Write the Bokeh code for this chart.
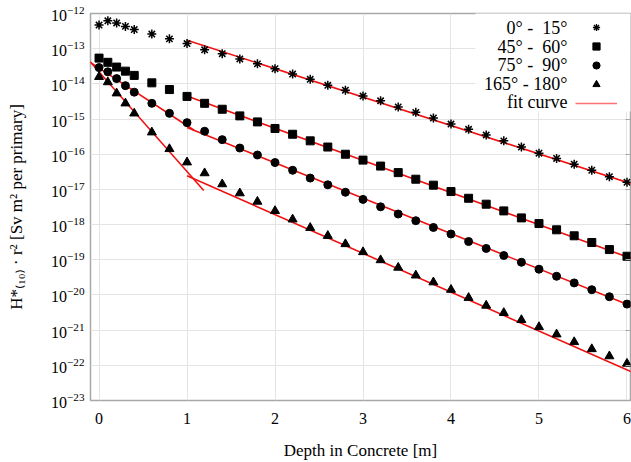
from bokeh.plotting import figure
from bokeh.models import (FixedTicker, Legend, LegendItem, LogTickFormatter,
                          Label, BoxAnnotation, LogAxis)
from bokeh.embed import file_html
from bokeh.resources import INLINE

# ---------------- data ----------------
depth = [0.0, 0.1, 0.2, 0.3, 0.4, 0.6, 0.8, 1.0, 1.2, 1.4, 1.6, 1.8, 2.0, 2.2, 2.4,
         2.6, 2.8, 3.0, 3.2, 3.4, 3.6, 3.8, 4.0, 4.2, 4.4, 4.6, 4.8, 5.0, 5.2, 5.4,
         5.6, 5.8, 6.0]

h_0_15 = [4.7e-13, 6.2e-13, 5.4e-13, 4.3e-13, 3.5e-13, 2.6e-13, 1.9e-13, 1.4e-13,
          9.3e-14, 7.2e-14, 5.1e-14, 3.7e-14, 2.7e-14, 1.9e-14, 1.35e-14, 9.1e-15,
          6.6e-15, 4.5e-15, 3.3e-15, 2.2e-15, 1.55e-15, 1.07e-15, 7.2e-16, 5.1e-16,
          3.5e-16, 2.4e-16, 1.6e-16, 1.07e-16, 7.6e-17, 5.2e-17, 3.5e-17, 2.3e-17,
          1.6e-17]

h_45_60 = [5.4e-14, 4.1e-14, 3.0e-14, 2.3e-14, 1.74e-14, 1.07e-14, 6.9e-15, 4.4e-15,
           2.8e-15, 1.9e-15, 1.23e-15, 8.3e-16, 5.4e-16, 3.7e-16, 2.4e-16, 1.6e-16,
           1.0e-16, 6.8e-17, 4.6e-17, 3.0e-17, 1.95e-17, 1.32e-17, 8.7e-18, 5.6e-18,
           3.8e-18, 2.45e-18, 1.55e-18, 1.07e-18, 7.1e-19, 4.8e-19, 3.1e-19, 1.95e-19,
           1.26e-19]

h_75_90 = [2.9e-14, 2.2e-14, 1.41e-14, 8.9e-15, 5.8e-15, 2.8e-15, 1.45e-15, 7.9e-16,
           4.5e-16, 2.6e-16, 1.5e-16, 9.5e-17, 5.8e-17, 3.5e-17, 2.1e-17, 1.35e-17,
           8.3e-18, 5.2e-18, 3.2e-18, 2.0e-18, 1.29e-18, 8.3e-19, 5.4e-19, 3.3e-19,
           2.1e-19, 1.32e-19, 8.5e-20, 5.4e-20, 3.4e-20, 2.2e-20, 1.41e-20, 8.9e-21,
           5.5e-21]

h_165_180 = [1.58e-14, 1.12e-14, 5.4e-15, 2.8e-15, 1.45e-15, 4.2e-16, 1.41e-16, 5.9e-17,
             2.9e-17, 1.41e-17, 7.8e-18, 4.5e-18, 2.45e-18, 1.41e-18, 8.1e-19, 4.8e-19,
             2.8e-19, 1.66e-19, 9.8e-20, 6.0e-20, 3.6e-20, 2.3e-20, 1.41e-20, 8.3e-21,
             5.0e-21, 3.1e-21, 1.95e-21, 1.23e-21, 7.6e-22, 4.6e-22, 2.9e-22, 1.82e-22,
             1.12e-22]

# fit-curve segments (end points)
fit_0_15_x = [1.0, 6.1]
fit_0_15_y = [1.74e-13, 1.32e-17]
fit_45_60_x = [1.0, 6.1]
fit_45_60_y = [4.5e-15, 9.8e-20]
fit_75_90_a_x = [-0.2, 1.08]
fit_75_90_a_y = [6.0e-14, 4.8e-16]
fit_75_90_b_x = [1.0, 6.1]
fit_75_90_b_y = [5.75e-16, 4.3e-21]
fit_165_180_a_x = [-0.2, 1.19]
fit_165_180_a_y = [8.1e-14, 9.3e-18]
fit_165_180_b_x = [1.0, 6.1]
fit_165_180_b_y = [2.45e-17, 5.8e-23]

legend_labels = ["0° - \u00a015°", "45° - \u00a060°", "75° - \u00a090°", "165° - 180°",
                 "fit curve"]
x_ticks = [0, 1, 2, 3, 4, 5, 6]
y_ticks = [1e-23, 1e-22, 1e-21, 1e-20, 1e-19, 1e-18, 1e-17, 1e-16, 1e-15, 1e-14,
           1e-13, 1e-12]

# ---------------- figure ----------------
SERIF = "Liberation Serif"
p = figure(width=631, height=462, y_axis_type="log",
           x_range=(-0.097, 6.04), y_range=(1e-23, 1e-12),
           output_backend="svg", toolbar_location=None,
           min_border_left=90, min_border_right=1, min_border_top=13,
           min_border_bottom=59)
p.background_fill_color = "white"
p.border_fill_color = "white"
p.outline_line_color = "#a8a8a8"
p.outline_line_width = 1.5

yt = FixedTicker(ticks=y_ticks, minor_ticks=[])
xt = FixedTicker(ticks=x_ticks, minor_ticks=[])
p.yaxis.ticker = yt
p.xaxis.ticker = xt
p.yaxis.formatter = LogTickFormatter()

for ax in (p.xaxis[0], p.yaxis[0]):
    ax.axis_line_color = None
    ax.major_tick_in = 0
    ax.major_tick_out = 0
    ax.minor_tick_line_color = None
    ax.major_label_text_font = SERIF
    ax.major_label_text_color = "black"
    ax.axis_label_text_font = SERIF
    ax.axis_label_text_font_style = "normal"
    ax.axis_label_text_color = "black"

p.yaxis.major_label_text_font_size = "16px"
p.xaxis.major_label_text_font_size = "16px"
p.yaxis.major_label_standoff = 6
p.xaxis.major_label_standoff = 12
p.xaxis.axis_label = "Depth in Concrete [m]"
p.xaxis.axis_label_text_font_size = "17px"
p.xaxis.axis_label_standoff = 14
p.yaxis.axis_label = "H*\u208d\u2081\u2080\u208e \u00b7 r\u00b2 [Sv m\u00b2 per primary]"
p.yaxis.axis_label_text_font_size = "17px"
p.yaxis.axis_label_standoff = 22

p.xgrid.grid_line_color = "#e4e4e4"
p.ygrid.grid_line_color = "#e4e4e4"
p.xgrid.ticker = xt
p.ygrid.ticker = yt

ra = LogAxis(ticker=yt, major_label_text_font_size="1px", major_label_text_color=None,
             major_label_standoff=0,
             major_tick_in=5, major_tick_out=0, axis_line_color=None,
             major_tick_line_color="#a8a8a8", minor_tick_line_color=None)
p.add_layout(ra, "right")

# ---------------- fit curves ----------------
RED = "#f01010"
for fx, fy in [(fit_0_15_x, fit_0_15_y), (fit_45_60_x, fit_45_60_y),
               (fit_75_90_a_x, fit_75_90_a_y), (fit_75_90_b_x, fit_75_90_b_y),
               (fit_165_180_a_x, fit_165_180_a_y), (fit_165_180_b_x, fit_165_180_b_y)]:
    p.line(fx, fy, line_color=RED, line_width=1.6)

# ---------------- data points ----------------
p.scatter(depth, h_0_15, marker="asterisk", size=9, line_color="black", line_width=1.5)
p.scatter(depth, h_45_60, marker="square", size=8, color="black")
p.scatter(depth, h_75_90, marker="circle", size=8, color="black")
p.scatter(depth, h_165_180, marker="triangle", size=9, color="black")

# ---------------- legend (labels left of symbols) ----------------
# screen units here are measured from the frame's bottom-left corner
bg = BoxAnnotation(left=385, right=545, top=390, bottom=289,
                   left_units="screen", right_units="screen",
                   top_units="screen", bottom_units="screen",
                   fill_color="white", fill_alpha=1.0, line_color=None)
p.add_layout(bg)

lg_star = p.scatter([1.0], [1e-30], marker="asterisk", size=7, line_color="black", line_width=1.3)
lg_sq = p.scatter([1.0], [1e-30], marker="square", size=6, color="black")
lg_ci = p.scatter([1.0], [1e-30], marker="circle", size=6, color="black")
lg_tr = p.scatter([1.0], [1e-30], marker="triangle", size=7, color="black")
lg_ln = p.line([1.0, 1.1], [1e-30, 1e-30], line_color="#ff7070", line_width=1.6)

legend = Legend(items=[LegendItem(label="", renderers=[r]) for r in
                       (lg_star, lg_sq, lg_ci, lg_tr, lg_ln)],
                location=(485, 288), orientation="vertical",
                glyph_width=42, glyph_height=18, label_height=18, label_width=0,
                label_standoff=0, spacing=1, padding=0, margin=0,
                background_fill_alpha=0, border_line_color=None,
                label_text_font_size="10px")
p.add_layout(legend, "center")

row_y = [373, 354, 336, 317, 299]
for txt, yy in zip(legend_labels, row_y):
    p.add_layout(Label(x=477, y=yy, x_units="screen", y_units="screen", text=txt,
                       text_align="right", text_baseline="middle",
                       text_font=SERIF, text_font_size="18px", text_color="black"))

open("out.html", "w").write(file_html(p, INLINE))
